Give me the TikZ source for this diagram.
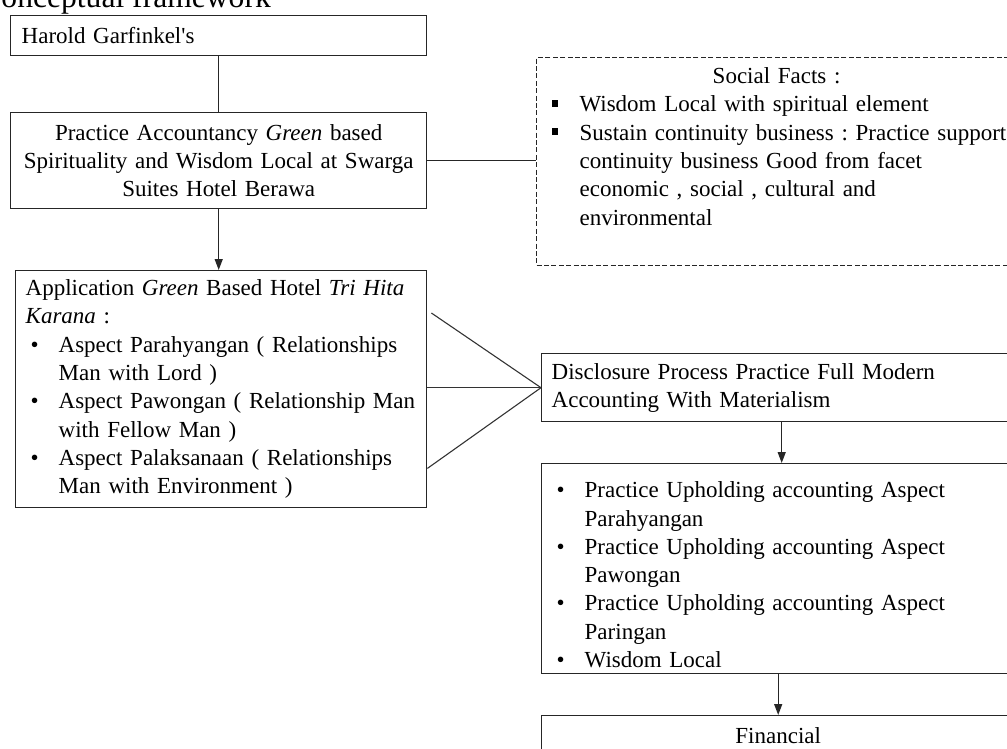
\documentclass[tikz,border=0pt]{standalone}
\usepackage{fontspec}
\setmainfont{Liberation Serif}
\usetikzlibrary{arrows.meta,calc}
\frenchspacing
\newcommand{\bul}[2]{\par\noindent\hangindent=16.5pt\hangafter=1\makebox[16.5pt][l]{\hspace{2.5pt}#1}#2\par}
\newcommand{\sqb}{\rule[2.6pt]{3.3pt}{3.3pt}}
\begin{document}
\begin{tikzpicture}[x=0.5pt,y=-0.5pt,
  box/.style={draw=black!85, line width=0.7pt, anchor=north west, inner xsep=5pt, inner ysep=0pt,
    font=\fontsize{11.5pt}{14.15pt}\selectfont\frenchspacing, text=black},
  dbox/.style={box, dash pattern=on 2.5pt off 1.2pt, line width=0.6pt},
  conn/.style={draw=black!85, line width=0.7pt},
  thinconn/.style={draw=black!80, line width=0.55pt},
  arr/.style={conn, -{Triangle[length=5.5pt,width=4pt]}}
]
\useasboundingbox (0,0) rectangle (1007,749);
\clip (0,0) rectangle (1007,749);

\node[anchor=base west, inner sep=0pt, font=\fontsize{15.8pt}{18pt}\selectfont] (title) at (-20,7.5) {Conceptual framework};

\node[box, text width=197pt, inner xsep=5.5pt, align=left, minimum height=20pt] (har) at (10,15)
  {Harold Garfinkel\textquotesingle s};

\node[box, text width=198pt, align=center, minimum height=48pt] (prac) at (10,112)
  {\mbox{Practice Accountancy \textit{Green} based}\\ \mbox{Spirituality and Wisdom Local at Swarga}\\ \mbox{Suites Hotel Berawa}};

\node[box, text width=195.5pt, align=left, minimum height=118.5pt] (app) at (15,270)
  {\mbox{Application \textit{Green} Based Hotel \textit{Tri Hita}}\newline\mbox{\textit{Karana} :}
   \bul{•}{\mbox{Aspect Parahyangan ( Relationships}\newline\mbox{Man with Lord )}}
   \bul{•}{\mbox{Aspect Pawongan ( Relationship Man}\newline\mbox{with Fellow Man )}}
   \bul{•}{\mbox{Aspect Palaksanaan ( Relationships}\newline\mbox{Man with Environment )}}};

\node[dbox, text width=230pt, align=left, minimum height=104pt] (soc) at (536,57)
  {{\centering\rule{0pt}{13pt}Social Facts :\par}
   \bul{\sqb}{\mbox{Wisdom Local with spiritual element}}
   \bul{\sqb}{\mbox{Sustain continuity business : Practice support}\newline\mbox{continuity business Good from facet}\newline\mbox{economic , social , cultural and}\newline\mbox{environmental}\rule[-20.3pt]{0pt}{0pt}}};

\node[box, text width=226.5pt, align=left, minimum height=34pt] (disc) at (541,353)
  {\mbox{Disclosure Process Practice Full Modern}\newline\mbox{Accounting With Materialism}};

\node[box, text width=226.5pt, align=left, minimum height=105pt] (uph) at (541,463)
  {\bul{•}{\mbox{Practice Upholding accounting Aspect}\newline\mbox{Parahyangan}}
   \bul{•}{\mbox{Practice Upholding accounting Aspect}\newline\mbox{Pawongan}}
   \bul{•}{\mbox{Practice Upholding accounting Aspect}\newline\mbox{Paringan}}
   \bul{•}{\mbox{Wisdom Local}}};

\node[box, text width=226.5pt, align=center, minimum height=20pt] (fin) at (541,715) {Financial};

\draw[conn] (har.south) -- (prac.north);
\draw[conn] (prac.east) -- (prac.east -| soc.west);
\draw[arr] (prac.south) -- (prac.south |- app.north);
\draw[thinconn] ($(app.north east)+(4,43)$) -- (disc.west);
\draw[thinconn] (app.east |- disc.west) -- (disc.west);
\draw[thinconn] ($(app.south east)+(0,-40)$) -- (disc.west);
\draw[arr] ($(disc.south)+(3.5,0)$) -- ($(uph.north)+(3.5,0)$);
\draw[arr] (uph.south) -- (fin.north);
\end{tikzpicture}
\end{document}
